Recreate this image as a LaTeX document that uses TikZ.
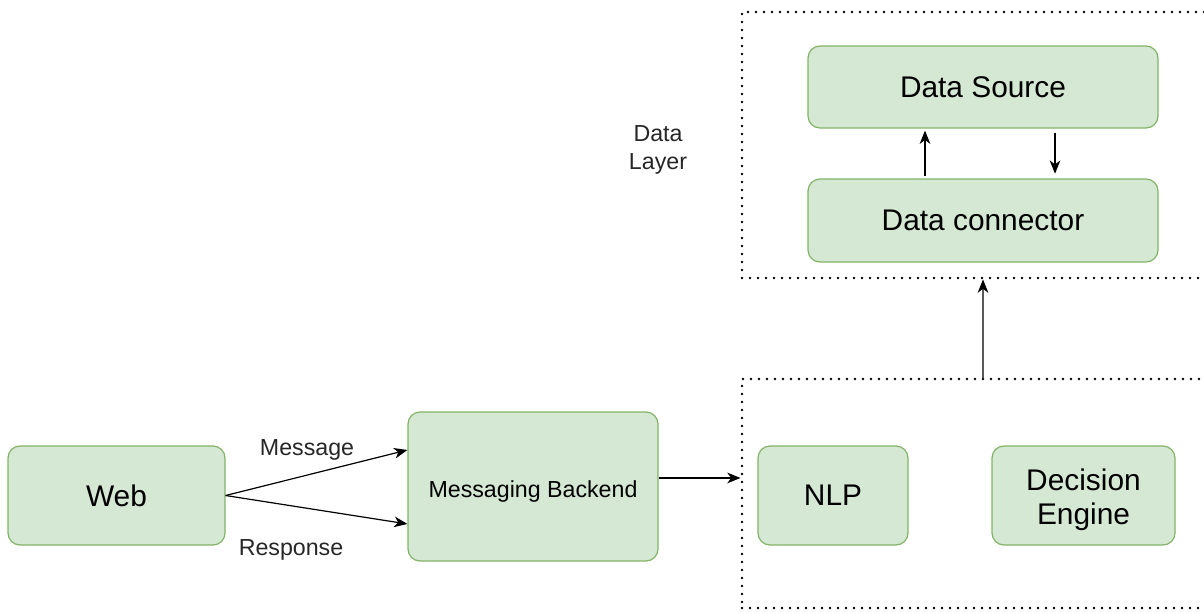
\documentclass[tikz,border=0pt]{standalone}
\usepackage{fontspec}
\setmainfont{Liberation Sans}
\usepackage[dvipsnames]{xcolor}
\usetikzlibrary{
	arrows.meta,									% 箭头样式
	positioning,									% 节点的摆放
}
\definecolor{boxfill}{HTML}{D5E8D4}
\definecolor{boxline}{HTML}{82B366}

\begin{document}
\begin{tikzpicture}[x=0.75pt, y=-0.75pt,
		block/.style={draw=boxline, fill=boxfill, line width=0.9pt, rounded corners=9pt, align=center, inner sep=0pt, font=\fontsize{22.4}{26}\selectfont},
		layerbox/.style={draw, line width=2.2pt, dash pattern=on 0pt off 6pt, line cap=round, inner sep=0pt},
		arr/.style={-{Stealth[length=10pt, width=8pt, inset=3pt]}, line width=0.9pt},
		lbl/.style={font=\fontsize{17.4}{20}\selectfont, text=black!85, align=center},
	]
	\useasboundingbox (0,0) rectangle (1204,611);
	\clip (0,0) rectangle (1204,611);
	% 两个虚线分层框
	\node[layerbox, minimum width=361.5pt, minimum height=199.5pt] (datalayer) at (983,145) {};
	\node[layerbox, minimum width=361.5pt, minimum height=171.75pt] (logic) at (983,493.5) {};
	\node[lbl, font=\fontsize{17.4}{20.5}\selectfont] (layername) at (658,150) {Data\\Layer};
	% 数据层
	\node[block, minimum width=262.5pt, minimum height=61.5pt] (source) at (983,87) {Data Source};
	\node[block, minimum width=262.5pt, minimum height=62.25pt] (connector) at (983,220.5) {Data connector};
	% 消息与处理
	\node[block, minimum width=162.75pt, minimum height=74.25pt] (web) at (116.5,495.5) {Web};
	\node[block, minimum width=187.5pt, minimum height=111.75pt, text height=20pt, font=\fontsize{17.4}{20}\selectfont] (backend) at (533,486.5) {Messaging Backend};
	\node[block, minimum width=112.5pt, minimum height=74.25pt] (nlp) at (833,495.5) {NLP};
	\node[block, minimum width=137.25pt, minimum height=74.25pt, text height=48.5pt] (engine) at (1083.5,495.5) {Decision\\Engine};
	\node[lbl] (msg) at (307,450) {Message};
	\node[lbl] (resp) at (291,550) {Response};
	% 连线
	\draw[arr] (web.east) -- ([yshift=27.4pt]backend.west);
	\draw[arr] (web.east) -- ([yshift=-28.1pt]backend.west);
	\draw[arr] ([yshift=6.4pt]backend.east) -- ([yshift=6.4pt]backend.east -| logic.west);
	\draw[arr, draw=black!65, -{Stealth[length=10pt, width=8pt, inset=3pt, black]}] (logic.north) -- (datalayer.south);
	\draw[arr, shorten <=1.5pt, shorten >=1.5pt] ([xshift=-43.5pt]connector.north) -- ([xshift=-43.5pt]source.south);
	\draw[arr, shorten <=3pt, shorten >=3.5pt] ([xshift=54pt]source.south) -- ([xshift=54pt]connector.north);
\end{tikzpicture}
\end{document}
